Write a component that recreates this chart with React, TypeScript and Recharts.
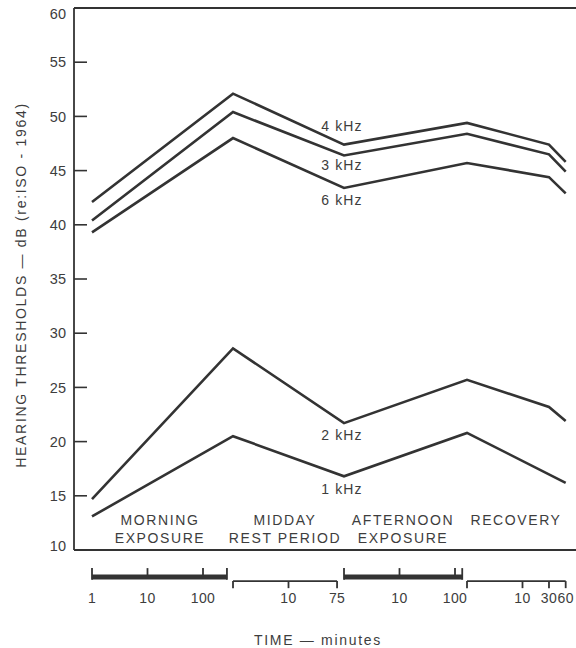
import React from 'react';
import { LineChart, Line, XAxis, YAxis, ReferenceLine, ReferenceDot } from 'recharts';

// time axis: four periods, each on its own log scale of minutes
const periodNames = ['MORNING\nEXPOSURE', 'MIDDAY\nREST PERIOD', 'AFTERNOON\nEXPOSURE', 'RECOVERY'];
const periodLength = [270, 75, 135, 60];
const periodTicks = [[1, 10, 100], [10, 75], [10, 100], [10, 30, 60]];
const periodExposure = [true, false, true, false];

// measurement times
const pointPeriod = [0, 1, 2, 3, 3, 3];
const pointMinutes = [1, 1, 1, 1, 30, 60];

// hearing thresholds, dB
const khz4 = [42.1, 52.1, 47.4, 49.4, 47.4, 45.8];
const khz3 = [40.4, 50.4, 46.4, 48.4, 46.5, 44.9];
const khz6 = [39.3, 48.0, 43.4, 45.7, 44.4, 42.9];
const khz2 = [14.7, 28.6, 21.7, 25.7, 23.2, 21.9];
const khz1 = [13.1, 20.5, 16.8, 20.8, null, 16.2];

const seriesNames = ['4 kHz', '3 kHz', '6 kHz', '2 kHz', '1 kHz'];
const seriesKeys = ['f4', 'f3', 'f6', 'f2', 'f1'];
const yTicks = [10, 15, 20, 25, 30, 35, 40, 45, 50, 55, 60];

// axis layout (axis units)
const X_MAX = 507;
const periodStart = [18, 159, 270, 393];
const DECADE = 55.5;
const pos = (p: number, m: number) => periodStart[p] + DECADE * Math.log10(m);

const data = pointMinutes.map((m, i) => ({
  x: pos(pointPeriod[i], m),
  f4: khz4[i],
  f3: khz3[i],
  f6: khz6[i],
  f2: khz2[i],
  f1: khz1[i],
}));

const tickLabels = new Map<number, string>();
periodTicks.forEach((list, p) => list.forEach((m) => tickLabels.set(pos(p, m), String(m))));
const xTicks = Array.from(tickLabels.keys());

// annotation anchors (data coords)
const seriesLabelX = 268;
const seriesLabelY = [49.1, 45.5, 42.3, 20.6, 15.6];
const periodLabelX = [86, 211, 329, 442];
const periodLabelY = [11.94, 11.94, 11.94, 12.77];

const INK = '#333';
const TEXT = '#3d3d3d';
const FONT = '"Liberation Sans", Arial, sans-serif';

const textLabel = (text: string, spacing = 1.6) => (props: any) => {
  const vb = props.viewBox;
  const cx = vb.x + vb.width / 2;
  const cy = vb.y + vb.height / 2;
  const lines = text.split('\n');
  const mid = (lines.length - 1) / 2;
  return (
    <text fill={TEXT} fontSize={14} fontFamily={FONT} letterSpacing={spacing} textAnchor="middle">
      {lines.map((l, i) => (
        <tspan key={i} x={cx} y={cy + (i - mid) * 18} dy="0.36em">{l}</tspan>
      ))}
    </text>
  );
};

const LeftTick = (props: any) => {
  const { x, y, payload } = props;
  const dy = payload.value === 60 ? 6 : payload.value === 10 ? -4 : 0;
  return (
    <g>
      <line x1={x + 8} x2={x + 21} y1={y} y2={y} stroke={INK} strokeWidth={1.6} />
      <text x={x} y={y + dy} dy="0.36em" textAnchor="end" fill={TEXT} fontSize={14.5} fontFamily={FONT}>
        {payload.value}
      </text>
    </g>
  );
};

const RightTick = (props: any) => {
  const { x, y } = props;
  return <line x1={x - 7} x2={x} y1={y} y2={y} stroke={INK} strokeWidth={1.6} />;
};

const BottomTick = (props: any) => {
  const { x, y, payload } = props;
  return (
    <text x={x} y={y + 48} dy="0.36em" textAnchor="middle" fill={TEXT} fontSize={14} fontFamily={FONT} letterSpacing={0.4}>
      {tickLabels.get(payload.value)}
    </text>
  );
};

// bracket decorations below the plot, in y-axis units
const BAR_Y = 7.5;
const BAR_TICK = 8.33;
const LINE_Y = 7.13;
const LINE_TICK = 6.48;

const bracketLines = () => {
  const out: React.ReactElement[] = [];
  periodLength.forEach((len, p) => {
    const a = pos(p, 1);
    const b = pos(p, len);
    const expo = periodExposure[p];
    const base = expo ? BAR_Y : LINE_Y;
    const tip = expo ? BAR_TICK : LINE_TICK;
    out.push(
      <ReferenceLine
        key={`bar${p}`}
        segment={[{ x: a, y: base }, { x: b, y: base }]}
        stroke={INK}
        strokeWidth={expo ? 5 : 1.8}
        ifOverflow="visible"
      />
    );
    const marks = Array.from(new Set([1, ...periodTicks[p], len]));
    marks.forEach((m) => {
      const x = pos(p, m);
      const end = m === 1 || m === len;
      out.push(
        <ReferenceLine
          key={`t${p}-${m}`}
          segment={[{ x, y: expo && end ? base - 0.25 : base }, { x, y: tip }]}
          stroke={INK}
          strokeWidth={1.8}
          ifOverflow="visible"
        />
      );
    });
  });
  return out;
};

export default function App() {
  return (
    <div style={{ position: 'absolute', left: 0, top: 0, width: 576, height: 648, overflow: 'hidden', background: '#fff' }}>
      <LineChart width={584} height={648} data={data} margin={{ top: 8, right: 0, bottom: 0, left: 0 }}>
        <XAxis
          type="number"
          dataKey="x"
          domain={[0, X_MAX]}
          ticks={xTicks}
          tick={<BottomTick />}
          tickLine={false}
          tickSize={0}
          tickMargin={0}
          height={98}
          axisLine={{ stroke: INK, strokeWidth: 1.8 }}
          interval={0}
        />
        <YAxis
          type="number"
          domain={[10, 60]}
          ticks={yTicks}
          width={74}
          tick={<LeftTick />}
          tickLine={false}
          tickSize={0}
          tickMargin={8}
          axisLine={{ stroke: INK, strokeWidth: 1.8 }}
          interval={0}
          label={{
            content: (p: any) => {
              const vb = p.viewBox;
              const cx = vb.x + 21;
              const cy = vb.y + vb.height / 2 + 6;
              return (
                <text
                  x={cx}
                  y={cy}
                  transform={`rotate(-90 ${cx} ${cy})`}
                  textAnchor="middle"
                  dy="0.36em"
                  fill={TEXT}
                  fontSize={14}
                  fontFamily={FONT}
                  letterSpacing={1.7}
                >
                  HEARING THRESHOLDS — dB (re:ISO - 1964)
                </text>
              );
            },
          }}
        />
        <YAxis
          yAxisId="right"
          orientation="right"
          type="number"
          domain={[10, 60]}
          ticks={yTicks}
          width={3}
          tick={<RightTick />}
          tickLine={false}
          tickSize={0}
          tickMargin={0}
          axisLine={{ stroke: INK, strokeWidth: 1.8 }}
          interval={0}
        />
        <ReferenceLine y={60} stroke={INK} strokeWidth={1.8} />
        {bracketLines()}
        {seriesKeys.map((k, i) => (
          <Line
            key={k}
            type="linear"
            dataKey={k}
            name={seriesNames[i]}
            stroke={INK}
            strokeWidth={2.6}
            dot={false}
            connectNulls
            isAnimationActive={false}
          />
        ))}
        {seriesNames.map((n, i) => (
          <ReferenceDot key={n} x={seriesLabelX} y={seriesLabelY[i]} r={0} ifOverflow="visible" label={textLabel(n, 1.1)} />
        ))}
        {periodNames.map((n, i) => (
          <ReferenceDot key={n} x={periodLabelX[i]} y={periodLabelY[i]} r={0} ifOverflow="visible" label={textLabel(n, 1.6)} />
        ))}
        <ReferenceDot x={244} y={1.67} r={0} ifOverflow="visible" label={textLabel('TIME — minutes', 1.7)} />
      </LineChart>
    </div>
  );
}
